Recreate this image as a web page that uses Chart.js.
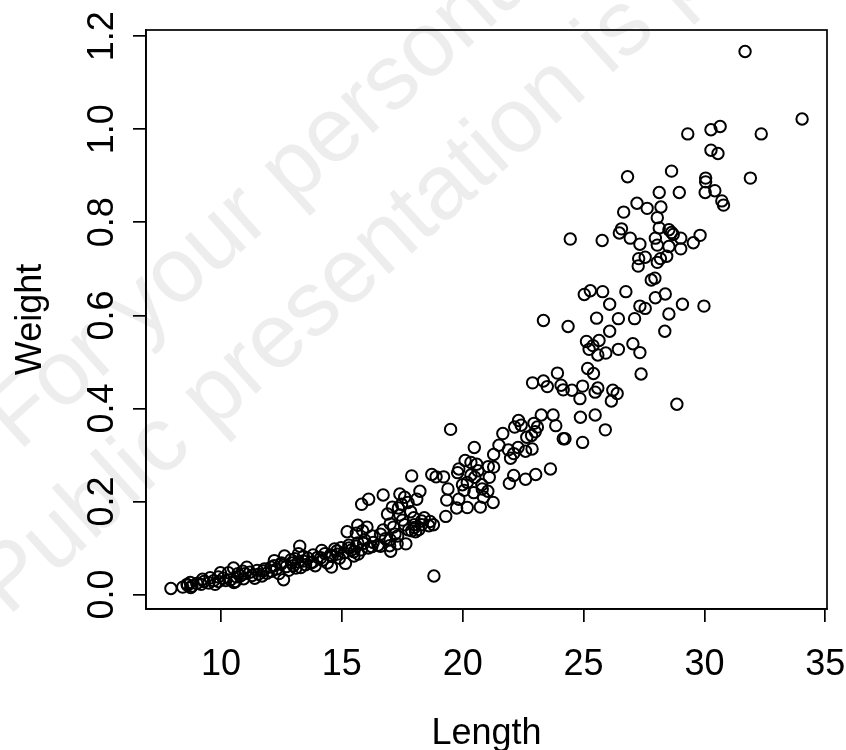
<!DOCTYPE html>
<html>
<head>
<meta charset="utf-8">
<script src="https://cdn.jsdelivr.net/npm/chart.js@4.4.1/dist/chart.umd.min.js"></script>
<style>
  html, body { margin: 0; padding: 0; background: #fff; }
  #wrap { width: 846px; height: 750px; position: relative; }
</style>
</head>
<body>
<div id="wrap"><canvas id="chart" width="846" height="750"></canvas></div>
<script>
// Length vs Weight scatter, R base-graphics look

const lengthVals = [
  31.68, 34.04, 30.65, 30.27, 29.31, 32.35, 30.27, 30.56, 26.82, 28.64,
  30.05, 30.05, 30.03, 30.43, 31.90, 28.13, 28.96, 30.72, 30.79, 27.21,
  27.63, 28.20, 26.66, 28.05, 28.13, 26.57, 26.48, 26.93, 24.45, 25.77,
  27.97, 28.53, 28.64, 28.71, 29.02, 29.82, 29.54, 29.02, 27.33, 28.05,
  28.53, 28.44, 28.18, 27.28, 27.55, 28.05, 27.26, 27.80, 27.95, 25.03,
  25.28, 25.79, 26.75, 28.38, 27.97, 26.08, 27.33, 27.55, 29.09, 29.98,
  23.34, 25.54, 26.44, 27.11, 28.53, 24.36, 26.08, 28.36, 25.12, 25.64,
  25.39, 25.23, 25.59, 25.92, 26.44, 27.04, 27.33, 23.92, 25.17, 25.41,
  27.38, 22.89, 23.34, 23.50, 24.07, 24.16, 24.52, 24.96, 25.59, 25.48,
  26.21, 26.39, 26.15, 24.85, 28.86, 23.25, 23.74, 25.48, 24.87, 23.85,
  22.31, 22.15, 22.42, 22.95, 23.09, 23.00, 22.85, 22.65, 24.16, 24.23,
  25.90, 24.96, 19.50, 21.66, 20.48, 22.29, 22.60, 22.87, 22.11, 21.98,
  21.28, 21.50, 21.89, 23.63, 23.02, 22.60, 22.11, 21.93, 21.28, 21.06,
  20.34, 20.10, 20.58, 19.84, 19.79, 19.21, 18.72, 18.90, 17.89, 20.34,
  20.63, 20.50, 21.10, 20.79, 19.99, 20.19, 19.39, 20.06, 20.46, 20.81,
  21.04, 18.23, 17.40, 16.71, 17.60, 16.11, 15.82, 19.34, 19.84, 20.86,
  21.26, 20.73, 20.19, 19.75, 19.30, 18.10, 17.74, 17.47, 17.09, 17.34,
  17.85, 16.89, 17.40, 16.71, 17.00, 17.14, 17.51, 17.98, 18.41, 18.65,
  18.79, 18.30, 18.01, 18.19, 17.89, 18.05, 17.76, 17.31, 17.65, 17.29,
  16.98, 16.60, 17.02, 16.24, 15.66, 16.04, 15.86, 15.60, 15.22, 16.25,
  15.94, 15.66, 15.29, 15.40, 15.68, 15.50, 14.97, 14.70, 14.82, 14.53,
  15.15, 14.57, 14.17, 14.13, 13.81, 13.72, 13.41, 13.26, 13.21, 13.06,
  12.92, 13.10, 12.63, 12.21, 12.48, 12.07, 12.59, 11.76, 11.56, 11.29,
  11.07, 10.94, 10.65, 10.54, 10.52, 10.31, 9.98, 9.89, 9.76, 9.55,
  9.24, 9.18, 8.73, 8.62, 8.42, 8.75, 7.93, 18.81,
  8.60, 8.80, 9.00, 9.30, 9.50, 9.70, 9.90, 10.10, 10.20, 10.40,
  10.60, 10.70, 10.80, 10.90, 11.00, 11.20, 11.40, 11.50, 11.70, 11.80,
  11.90, 12.10, 12.20, 12.30, 12.40, 12.50, 12.70, 12.80, 12.90, 13.00,
  13.20, 13.30, 13.40, 13.50, 13.60, 13.80, 13.90, 14.00, 14.20, 14.30,
  14.40, 14.60, 14.80, 14.90, 15.10, 15.30, 15.50, 15.60, 15.80, 15.90,
  16.10, 16.30, 16.50, 16.80, 17.20, 17.60, 18.00, 18.30, 18.60, 17.00,
  16.60
];

const weightVals = [
  1.167, 1.022, 1.006, 0.999, 0.990, 0.990, 0.955, 0.948, 0.898, 0.910,
  0.895, 0.887, 0.864, 0.868, 0.895, 0.864, 0.864, 0.846, 0.837, 0.841,
  0.830, 0.833, 0.822, 0.810, 0.788, 0.786, 0.777, 0.766, 0.764, 0.761,
  0.766, 0.784, 0.778, 0.774, 0.766, 0.772, 0.756, 0.743, 0.753, 0.751,
  0.748, 0.727, 0.722, 0.722, 0.725, 0.714, 0.706, 0.676, 0.680, 0.645,
  0.653, 0.651, 0.651, 0.646, 0.638, 0.624, 0.620, 0.615, 0.624, 0.620,
  0.589, 0.594, 0.593, 0.593, 0.603, 0.576, 0.566, 0.566, 0.544, 0.546,
  0.535, 0.527, 0.515, 0.519, 0.527, 0.539, 0.520, 0.476, 0.486, 0.475,
  0.474, 0.455, 0.459, 0.447, 0.450, 0.440, 0.439, 0.448, 0.444, 0.435,
  0.439, 0.432, 0.416, 0.421, 0.409, 0.386, 0.386, 0.386, 0.381, 0.363,
  0.374, 0.360, 0.364, 0.368, 0.360, 0.350, 0.342, 0.338, 0.335, 0.335,
  0.354, 0.327, 0.355, 0.346, 0.316, 0.316, 0.308, 0.313, 0.303, 0.293,
  0.301, 0.321, 0.311, 0.270, 0.258, 0.248, 0.256, 0.239, 0.274, 0.275,
  0.284, 0.288, 0.280, 0.270, 0.262, 0.253, 0.258, 0.253, 0.255, 0.257,
  0.266, 0.252, 0.252, 0.236, 0.236, 0.241, 0.227, 0.224, 0.219, 0.227,
  0.222, 0.222, 0.216, 0.214, 0.209, 0.205, 0.194, 0.203, 0.205, 0.209,
  0.198, 0.188, 0.187, 0.186, 0.168, 0.205, 0.198, 0.194, 0.188, 0.186,
  0.178, 0.173, 0.171, 0.139, 0.152, 0.145, 0.160, 0.165, 0.165, 0.157,
  0.150, 0.150, 0.144, 0.140, 0.137, 0.135, 0.139, 0.126, 0.109, 0.109,
  0.105, 0.104, 0.093, 0.103, 0.149, 0.145, 0.137, 0.132, 0.135, 0.126,
  0.118, 0.111, 0.106, 0.096, 0.087, 0.083, 0.101, 0.098, 0.087, 0.085,
  0.067, 0.059, 0.095, 0.079, 0.085, 0.068, 0.082, 0.104, 0.088, 0.077,
  0.068, 0.057, 0.083, 0.073, 0.065, 0.059, 0.032, 0.051, 0.044, 0.041,
  0.059, 0.034, 0.038, 0.026, 0.057, 0.047, 0.047, 0.038, 0.022, 0.036,
  0.033, 0.022, 0.026, 0.020, 0.016, 0.015, 0.013, 0.040,
  0.022, 0.018, 0.024, 0.028, 0.025, 0.030, 0.028, 0.035, 0.030, 0.032,
  0.028, 0.045, 0.040, 0.050, 0.045, 0.048, 0.035, 0.052, 0.040, 0.055,
  0.046, 0.050, 0.062, 0.055, 0.045, 0.068, 0.060, 0.052, 0.075, 0.062,
  0.070, 0.058, 0.072, 0.064, 0.078, 0.070, 0.062, 0.080, 0.074, 0.088,
  0.068, 0.082, 0.094, 0.078, 0.090, 0.100, 0.092, 0.104, 0.096, 0.110,
  0.100, 0.112, 0.106, 0.120, 0.130, 0.150, 0.150, 0.158, 0.148, 0.118,
  0.130
];

const xTicks = [10, 15, 20, 25, 30, 35];
const yTicks = [0.0, 0.2, 0.4, 0.6, 0.8, 1.0, 1.2];
const xLimits = [6.90, 35.07];
const yLimits = [-0.031, 1.2133];
const watermarkLines = ['For your personal use only', 'Public presentation is prohibited'];

const FONT = 'Liberation Sans, Arial, Helvetica, sans-serif';

const points = lengthVals.map((x, i) => ({ x: x, y: weightVals[i] }));

// faint diagonal watermark behind the plot
const watermark = {
  id: 'watermark',
  beforeDraw(chart) {
    const ctx = chart.ctx;
    const ang = -42 * Math.PI / 180;
    [[watermarkLines[0], 19, 452], [watermarkLines[1], 8, 617]].forEach(([txt, x0, y0]) => {
      ctx.save();
      ctx.fillStyle = '#ededed';
      ctx.font = '92px ' + FONT;
      ctx.textAlign = 'left';
      ctx.textBaseline = 'alphabetic';
      ctx.translate(x0, y0);
      ctx.rotate(ang);
      ctx.fillText(txt, 0, 0);
      ctx.restore();
    });
  }
};

// R style box and vertical y tick labels
const rBox = {
  id: 'rBox',
  afterDraw(chart) {
    const ctx = chart.ctx;
    const a = chart.chartArea;
    const ys = chart.scales.y;
    ctx.save();
    ctx.strokeStyle = '#000';
    ctx.lineWidth = 1.7;
    ctx.strokeRect(a.left, a.top, a.right - a.left, a.bottom - a.top);
    ctx.fillStyle = '#000';
    ctx.font = '36px ' + FONT;
    ctx.textAlign = 'center';
    ctx.textBaseline = 'alphabetic';
    yTicks.forEach(v => {
      const py = ys.getPixelForValue(v);
      ctx.save();
      ctx.translate(113, py);
      ctx.rotate(-Math.PI / 2);
      ctx.fillText(v.toFixed(1), 0, 0);
      ctx.restore();
    });
    ctx.restore();
  }
};

new Chart(document.getElementById('chart'), {
  type: 'scatter',
  data: {
    datasets: [{
      data: points,
      pointStyle: 'circle',
      pointRadius: 5.7,
      pointHoverRadius: 5.7,
      pointBorderWidth: 2,
      borderColor: '#000',
      backgroundColor: 'rgba(0,0,0,0)'
    }]
  },
  options: {
    responsive: false,
    animation: false,
    events: [],
    layout: { padding: { left: 0, right: 19, top: 30, bottom: 0 } },
    plugins: { legend: { display: false }, tooltip: { enabled: false } },
    scales: {
      x: {
        type: 'linear',
        min: xLimits[0],
        max: xLimits[1],
        afterFit(s) { s.height = 141; s.paddingLeft = 0; s.paddingRight = 0; },
        afterBuildTicks(s) { s.ticks = xTicks.map(v => ({ value: v })); },
        grid: { drawOnChartArea: false, drawTicks: true, tickLength: 13, color: '#000', lineWidth: 1.7 },
        border: { display: true, color: '#000', width: 1.7 },
        ticks: {
          color: '#000',
          padding: 21,
          font: { family: FONT, size: 36 },
          maxRotation: 0,
          callback: v => String(v)
        },
        title: {
          display: true,
          text: 'Length',
          color: '#000',
          font: { family: FONT, size: 36, lineHeight: 0.9 },
          padding: { top: 0, bottom: 0 }
        }
      },
      y: {
        type: 'linear',
        min: yLimits[0],
        max: yLimits[1],
        afterFit(s) { s.width = 146; s.paddingTop = 0; s.paddingBottom = 0; },
        afterBuildTicks(s) { s.ticks = yTicks.map(v => ({ value: v })); },
        grid: { drawOnChartArea: false, drawTicks: true, tickLength: 13, color: '#000', lineWidth: 1.7 },
        border: { display: true, color: '#000', width: 1.7 },
        ticks: { display: false },
        title: {
          display: true,
          text: 'Weight',
          color: '#000',
          font: { family: FONT, size: 36, lineHeight: 1 },
          padding: { top: 13, bottom: 0 }
        }
      }
    }
  },
  plugins: [watermark, rBox]
});
</script>
</body>
</html>
